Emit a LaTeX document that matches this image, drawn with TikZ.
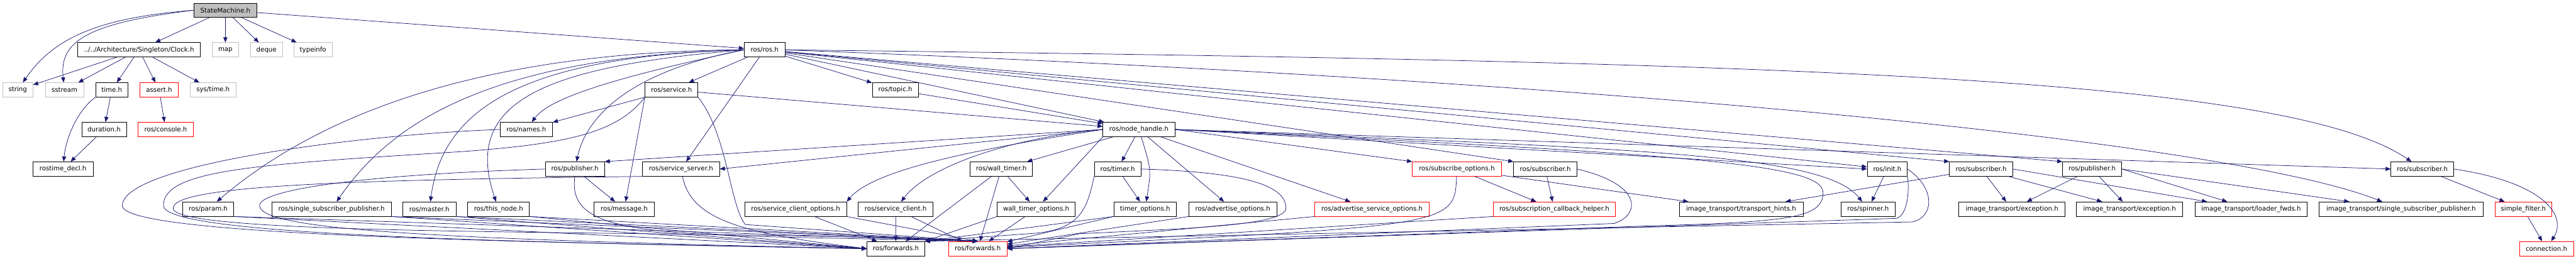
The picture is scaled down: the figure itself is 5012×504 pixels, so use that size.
\documentclass[tikz,border=0pt]{standalone}
\usepackage{fontspec}
\setmainfont{DejaVu Sans}
\usepackage{tikz}
\usetikzlibrary{arrows.meta}
\definecolor{edgeblue}{RGB}{25,25,112}
\definecolor{grey75}{RGB}{191,191,191}
\newcommand\boxfont{\fontsize{12.5}{15}\selectfont}

\begin{document}
\begin{tikzpicture}[x=1pt,y=-1pt,
    hdr/.style={draw=black,fill=white,line width=0.9pt,minimum height=28pt,inner sep=0pt,font=\boxfont},
    sysbox/.style={hdr,draw=grey75},
    trunc/.style={hdr,draw=red},
    rootbox/.style={hdr,fill=grey75},
    dep/.style={draw=edgeblue,line width=0.9pt,-{Triangle[length=10pt,width=8pt]}}]
\useasboundingbox (0,0) rectangle (5012,504);
% headers, row by row
\node[rootbox,minimum width=123pt] (sm) at (438.5,20) {StateMachine.h};

\node[hdr,minimum width=239pt] (clock) at (270.5,97) {../../Architecture/Singleton/Clock.h};
\node[sysbox,minimum width=51pt] (map) at (438.5,97) {map};
\node[sysbox,minimum width=63pt] (deque) at (518.5,97) {deque};
\node[sysbox,minimum width=74pt] (typeinfo) at (609,97) {typeinfo};
\node[hdr,minimum width=79pt] (rosh) at (1487.5,97) {ros/ros.h};

\node[sysbox,minimum width=59pt] (string) at (34.5,175) {string};
\node[sysbox,minimum width=75pt] (sstream) at (125.5,175) {sstream};
\node[hdr,minimum width=63pt] (timeh) at (217.5,175) {time.h};
\node[trunc,minimum width=75pt] (asserth) at (309.5,175) {assert.h};
\node[sysbox,minimum width=89pt] (systime) at (414.5,175) {sys/time.h};
\node[hdr,minimum width=103pt] (service) at (1306.5,175) {ros/service.h};
\node[hdr,minimum width=90pt] (topic) at (1742,175) {ros/topic.h};

\node[hdr,minimum width=87pt] (duration) at (202.5,252) {duration.h};
\node[trunc,minimum width=107pt] (console) at (322.5,252) {ros/console.h};
\node[hdr,minimum width=102pt] (names) at (1024,252) {ros/names.h};
\node[hdr,minimum width=140pt] (nodehandle) at (2216,252) {ros/node\_handle.h};

\node[hdr,minimum width=117pt] (rostime) at (122.5,329) {rostime\_decl.h};
\node[hdr,minimum width=115pt] (pubA) at (1118.5,329) {ros/publisher.h};
\node[hdr,minimum width=150pt] (srvserver) at (1325,329) {ros/service\_server.h};
\node[hdr,minimum width=122pt] (walltimer) at (1948,329) {ros/wall\_timer.h};
\node[hdr,minimum width=91pt] (timer) at (2174.5,329) {ros/timer.h};
\node[trunc,minimum width=173pt] (subopts) at (2834.5,329) {ros/subscribe\_options.h};
\node[hdr,minimum width=123pt] (subA) at (3006.5,329) {ros/subscriber.h};
\node[hdr,minimum width=78pt] (init) at (3672,329) {ros/init.h};
\node[hdr,minimum width=123pt] (subB) at (3854.5,329) {ros/subscriber.h};
\node[hdr,minimum width=115pt] (pubB) at (4070.5,329) {ros/publisher.h};
\node[hdr,minimum width=122pt] (subC) at (4713,329) {ros/subscriber.h};

\node[hdr,minimum width=100pt] (param) at (405,407) {ros/param.h};
\node[hdr,minimum width=232pt] (ssp) at (645,407) {ros/single\_subscriber\_publisher.h};
\node[hdr,minimum width=103pt] (master) at (835.5,407) {ros/master.h};
\node[hdr,minimum width=120pt] (thisnode) at (970,407) {ros/this\_node.h};
\node[hdr,minimum width=117pt] (message) at (1214.5,407) {ros/message.h};
\node[hdr,minimum width=198pt] (sco) at (1548,407) {ros/service\_client\_options.h};
\node[hdr,minimum width=145pt] (sclient) at (1742.5,407) {ros/service\_client.h};
\node[hdr,minimum width=152pt] (wto) at (2016,407) {wall\_timer\_options.h};
\node[hdr,minimum width=122pt] (topts) at (2228,407) {timer\_options.h};
\node[hdr,minimum width=171pt] (advopts) at (2398.5,407) {ros/advertise\_options.h};
\node[trunc,minimum width=223pt] (advsrv) at (2669.5,407) {ros/advertise\_service\_options.h};
\node[trunc,minimum width=238pt] (subcb) at (3024,407) {ros/subscription\_callback\_helper.h};
\node[hdr,minimum width=241pt] (hints) at (3387.5,407) {image\_transport/transport\_hints.h};
\node[hdr,minimum width=105pt] (spinner) at (3634.5,407) {ros/spinner.h};
\node[hdr,minimum width=207pt] (excA) at (3914.5,407) {image\_transport/exception.h};
\node[hdr,minimum width=207pt] (excB) at (4143.5,407) {image\_transport/exception.h};
\node[hdr,minimum width=218pt] (loader) at (4380,407) {image\_transport/loader\_fwds.h};
\node[hdr,minimum width=319pt] (itssp) at (4671.5,407) {image\_transport/single\_subscriber\_publisher.h};
\node[trunc,minimum width=111pt] (sfilter) at (4909.5,407) {simple\_filter.h};

\node[hdr,minimum width=112pt] (fwdA) at (1743,484) {ros/forwards.h};
\node[trunc,minimum width=113pt] (fwdB) at (1902.5,484) {ros/forwards.h};
\node[trunc,minimum width=105pt] (connection) at (4954.5,484) {connection.h};

% StateMachine.h
\draw[dep] (sm.west) .. controls (180,35) and (100,80) .. (string);
\draw[dep] (sm.west) .. controls (170,45) and (115,80) .. (sstream);
\draw[dep] (sm) -- (clock);
\draw[dep] (sm) -- (map);
\draw[dep] (sm) -- (deque);
\draw[dep] (sm) -- (typeinfo);
\draw[dep] (sm) -- (rosh);

% Clock.h and rostime
\draw[dep] (clock) -- (string);
\draw[dep] (clock) -- (sstream);
\draw[dep] (clock) -- (timeh);
\draw[dep] (clock) -- (asserth);
\draw[dep] (clock) -- (systime);
\draw[dep] (timeh) -- (duration);
\draw[dep] (timeh.south west) .. controls (150,215) and (128,270) .. (rostime);
\draw[dep] (duration) -- (rostime);
\draw[dep] (asserth) -- (console);

% ros.h
\draw[dep] (rosh) -- (service);
\draw[dep] (rosh) -- (topic);
\draw[dep] (rosh) -- (nodehandle);
\draw[dep] (rosh) -- (srvserver);
\draw[dep] (rosh.west) .. controls (1200,150) and (1070,190) .. (names);
\draw[dep] (rosh.west) .. controls (1220,140) and (1140,230) .. (pubA);
\draw[dep] (rosh.west) .. controls (1050,130) and (900,200) .. (thisnode);
\draw[dep] (rosh.west) .. controls (1000,110) and (860,220) .. (master);
\draw[dep] (rosh.west) .. controls (950,110) and (760,240) .. (ssp);
\draw[dep] (rosh.west) .. controls (900,100) and (600,240) .. (param);
\draw[dep] (rosh) -- (subA.north west);
\draw[dep] (rosh) -- (init);
\draw[dep] (rosh) -- (subB.north west);
\draw[dep] (rosh) -- (pubB.north west);
\draw[dep] (rosh.east) .. controls (3200,160) and (4350,280) .. (itssp);
\draw[dep] (rosh.east) .. controls (3500,120) and (4450,150) .. (subC);

% service.h, topic.h, names.h
\draw[dep] (service) -- (names);
\draw[dep] (service) -- (nodehandle);
\draw[dep] (service.south west) -- (message);
\draw[dep] (service.south west) .. controls (1200,260) and (1100,280) .. (900,295)
  .. controls (500,320) and (318,330) .. (318,400) .. controls (318,455) and (900,470) .. (fwdA.west);
\draw[dep] (service.south east) .. controls (1415,260) and (1420,400) .. (1450,437) -- (fwdB.north);
\draw[dep] (topic) -- (nodehandle);
\draw[dep] (names.west) .. controls (700,262) and (240,320) .. (238,400)
  .. controls (236,455) and (900,470) .. (fwdA.west);

% node_handle.h
\draw[dep] (nodehandle.west) -- (pubA.north east);
\draw[dep] (nodehandle.west) -- (srvserver.east);
\draw[dep] (nodehandle.west) .. controls (1900,290) and (1700,330) .. (sco.north east);
\draw[dep] (nodehandle.west) .. controls (1950,270) and (1800,330) .. (sclient);
\draw[dep] (nodehandle) -- (walltimer);
\draw[dep] (nodehandle.south west) -- (wto);
\draw[dep] (nodehandle) -- (timer);
\draw[dep] (nodehandle) .. controls (2240,330) .. (topts);
\draw[dep] (nodehandle) -- (advopts);
\draw[dep] (nodehandle) -- (advsrv);
\draw[dep] (nodehandle.east) -- (subopts.north west);
\draw[dep] (nodehandle.east) -- (init.west);
\draw[dep] (nodehandle.east) -- (subC.west);
\draw[dep] (nodehandle.east) .. controls (3200,290) and (3550,300) .. (spinner);
\draw[dep] (nodehandle.east) .. controls (3300,300) and (3547,320) .. (3547,375)
  .. controls (3547,425) and (3480,432) .. (3200,440) -- (fwdB.east);

% publisher.h, service_server.h
\draw[dep] (pubA) -- (message);
\draw[dep] (pubA.west) .. controls (700,340) and (505,370) .. (505,400)
  .. controls (505,445) and (800,465) .. (fwdA.west);
\draw[dep] (pubA.south) .. controls (1100,470) and (1300,455) .. (fwdB.north);
\draw[dep] (srvserver) .. controls (1345,430) and (1450,455) .. (fwdA.west);
\draw[dep] (srvserver.south west) .. controls (700,350) and (337,360) .. (337,405)
  .. controls (330,465) and (1400,445) .. (fwdB.north);

% timers
\draw[dep] (timer) -- (topts);
\draw[dep] (timer.south west) .. controls (2115,410) and (2100,450) .. (2000,455) -- (fwdA.north east);
\draw[dep] (timer.east) .. controls (2420,335) and (2502,360) .. (2502,405)
  .. controls (2502,440) and (2300,445) .. (2100,455) -- (fwdB.east);
\draw[dep] (walltimer) -- (wto);
\draw[dep] (walltimer) -- (fwdA);
\draw[dep] (walltimer) -- (fwdB);
\draw[dep] (wto.south west) -- (fwdA.north east);
\draw[dep] (wto) -- (fwdB);
\draw[dep] (topts.south west) -- (fwdA.north east);
\draw[dep] (topts.south west) -- (fwdB);

% service client, options
\draw[dep] (sclient) -- (fwdA);
\draw[dep] (sclient) -- (fwdB);
\draw[dep] (sco) -- (fwdA);
\draw[dep] (sco.south east) -- (fwdB.north);
\draw[dep] (advopts.south west) -- (fwdB);
\draw[dep] (advsrv.south west) -- (fwdB);

% subscribe side
\draw[dep] (subopts) -- (subcb);
\draw[dep] (subopts) -- (hints);
\draw[dep] (subopts) .. controls (2830,440) .. (fwdB);
\draw[dep] (subA) -- (subcb);
\draw[dep] (subA.east) .. controls (3200,360) and (3190,420) .. (3140,435) -- (fwdB.east);
\draw[dep] (subcb.south west) -- (fwdB);

% init.h
\draw[dep] (init) -- (spinner);
\draw[dep] (init.south east) .. controls (3715,370) and (3712,418) .. (3690,425) -- (fwdB.east);
\draw[dep] (init.east) .. controls (3770,370) and (3760,425) .. (3720,432) -- (fwdA.north east);

% image_transport
\draw[dep] (subB) -- (hints);
\draw[dep] (subB) -- (excA);
\draw[dep] (subB) -- (excB);
\draw[dep] (subB.east) -- (loader);
\draw[dep] (pubB) -- (excA);
\draw[dep] (pubB) -- (excB);
\draw[dep] (pubB.east) -- (loader);
\draw[dep] (pubB.east) -- (itssp);

% message_filters
\draw[dep] (subC) -- (sfilter);
\draw[dep] (subC.east) .. controls (4950,355) and (4995,420) .. (connection);
\draw[dep] (sfilter) -- (connection);

% left column into forwards
\draw[dep] (param.south east) -- (fwdA.west);
\draw[dep] (ssp.south east) -- (fwdA.west);
\draw[dep] (master.south east) -- (fwdA.west);
\draw[dep] (thisnode.south east) -- (fwdA.west);
\draw[dep] (param.south east) -- (fwdB.north);
\draw[dep] (ssp.south east) -- (fwdB.north);
\draw[dep] (master.south east) -- (fwdB.north);
\draw[dep] (thisnode.south east) -- (fwdB.north);
\end{tikzpicture}
\end{document}
